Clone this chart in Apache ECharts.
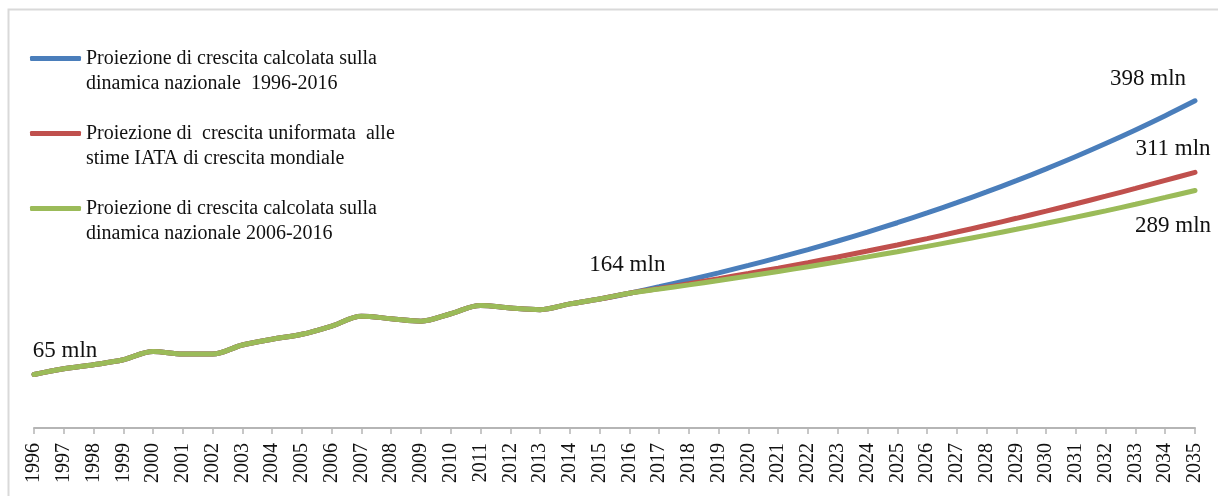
<!DOCTYPE html>
<html>
<head>
<meta charset="utf-8">
<script src="https://cdn.jsdelivr.net/npm/echarts@6/dist/echarts.min.js"></script>
<style>
  html, body { margin: 0; padding: 0; background: #fff; }
  #chart { width: 1218px; height: 496px; }
</style>
</head>
<body>
<div id="chart"></div>
<script>
// Years on the category axis
const years = [];
for (let y = 1996; y <= 2035; y++) years.push(String(y));

// Passengers (millions), observed 1996-2016 — shared by all three series
const observed = [65, 72, 77, 83, 93, 90, 90, 101, 108, 114, 124, 136, 133, 130, 139, 149, 146, 144, 151, 157, 164];

// Projections 2017-2035
const projNational9616 = [171.8, 180.1, 188.8, 197.8, 207.2, 217.1, 227.5, 238.3, 249.7, 261.6, 274.1, 287.2, 300.9, 315.3, 330.3, 346.1, 362.6, 379.9, 398];
const projIata         = [169.7, 175.6, 181.7, 188.0, 194.5, 201.2, 208.1, 215.3, 222.7, 230.4, 238.4, 246.6, 255.1, 263.8, 272.8, 282.0, 291.5, 301.2, 311];
const projNational0616 = [169.0, 174.1, 179.4, 184.8, 190.4, 196.2, 202.1, 208.2, 214.5, 221.0, 227.7, 234.6, 241.7, 249.0, 256.5, 264.2, 272.2, 280.5, 289];

const seriesNames = [
  'Proiezione di crescita calcolata sulla\ndinamica nazionale  1996-2016',
  'Proiezione di  crescita uniformata  alle\nstime IATA di crescita mondiale',
  'Proiezione di crescita calcolata sulla\ndinamica nazionale 2006-2016'
];
const colors = ['#4a7ebb', '#c0504d', '#9bbb59'];

const serif = 'Liberation Serif, Times New Roman, serif';

// Build a series' data, attaching value labels to selected years
function build(proj, labels) {
  return observed.concat(proj).map((v, i) => {
    const lab = labels[years[i]];
    if (!lab) return v;
    return {
      value: v,
      label: {
        show: true,
        position: 'inside',
        offset: lab,
        formatter: '{c} mln',
        fontFamily: serif,
        fontSize: 23,
        color: '#111'
      }
    };
  });
}

const dataBlue = build(projNational9616, { '2035': [-47, -22] });
const dataRed = build(projIata, { '2035': [-22, -23] });
const dataGreen = build(projNational0616, { '1996': [31, -24], '2016': [-2, -28], '2035': [-22, 36] });

function lineSeries(name, data, color, z) {
  return {
    name: name,
    type: 'line',
    data: data,
    smooth: 0.35,
    symbol: 'circle',
    symbolSize: 3,
    showSymbol: true,
    itemStyle: { color: color },
    lineStyle: { color: color, width: 5, cap: 'round' },
    z: z,
    animation: false,
    emphasis: { disabled: true }
  };
}

const chart = echarts.init(document.getElementById('chart'), null, { renderer: 'canvas' });
chart.setOption({
  backgroundColor: '#ffffff',
  animation: false,
  graphic: [{
    type: 'rect',
    silent: true,
    shape: { x: 8.5, y: 9.5, width: 1400, height: 700 },
    style: { fill: 'none', stroke: '#d9d9d9', lineWidth: 2 },
    z: -1
  }],
  grid: { left: 34, right: 23, top: 17, bottom: 68, containLabel: false },
  legend: {
    orient: 'vertical',
    left: 30,
    top: 21,
    padding: 0,
    itemGap: 0,
    itemWidth: 51,
    itemHeight: 5,
    icon: 'roundRect',
    selectedMode: false,
    data: seriesNames,
    // a leading blank line keeps the first text line level with the swatch
    formatter: name => ' \n' + name,
    textStyle: {
      fontFamily: serif,
      fontSize: 20,
      lineHeight: 25,
      color: '#111'
    }
  },
  xAxis: {
    type: 'category',
    data: years,
    boundaryGap: false,
    axisLine: { show: true, lineStyle: { color: '#b5b5b5', width: 2 } },
    axisTick: { show: true, length: 6, lineStyle: { color: '#b5b5b5', width: 1.5 } },
    axisLabel: {
      interval: 0,
      rotate: 90,
      margin: 15,
      fontFamily: serif,
      fontSize: 20,
      color: '#111'
    },
    splitLine: { show: false }
  },
  yAxis: {
    type: 'value',
    min: 0,
    max: 500,
    show: false,
    splitLine: { show: false }
  },
  series: [
    lineSeries(seriesNames[0], dataBlue, colors[0], 2),
    lineSeries(seriesNames[1], dataRed, colors[1], 3),
    lineSeries(seriesNames[2], dataGreen, colors[2], 4)
  ]
});
</script>
</body>
</html>
